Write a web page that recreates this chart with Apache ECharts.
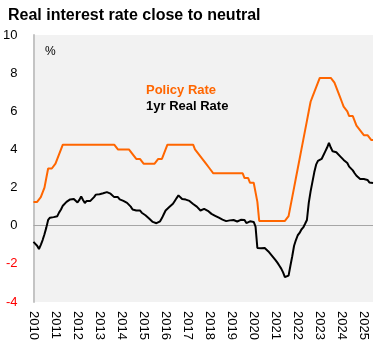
<!DOCTYPE html>
<html>
<head>
<meta charset="utf-8">
<script src="https://cdn.jsdelivr.net/npm/echarts@6/dist/echarts.min.js"></script>
<style>
html,body{margin:0;padding:0;background:#fff;}
#chart{width:390px;height:356px;}
</style>
</head>
<body>
<div id="chart"></div>
<script>
// Monthly categories Jan 2010 - Jun 2025
const startYear = 2010, endYear = 2025, endMonth = 6;
const months = [];
for (let y = startYear; y <= endYear; y++) {
  for (let m = 1; m <= 12; m++) {
    if (y === endYear && m > endMonth) break;
    months.push(y + '-' + (m < 10 ? '0' + m : m));
  }
}

// Policy rate (%), monthly
const policyRate = [
  1.25,1.25,1.25,1.25,1.50,1.75,2.00,2.50,3.00,3.00,3.00,3.00,   // 2010
  3.25,3.50,3.75,4.00,4.25,4.25,4.25,4.25,4.25,4.25,4.25,4.25,   // 2011
  4.25,4.25,4.25,4.25,4.25,4.25,4.25,4.25,4.25,4.25,4.25,4.25,   // 2012
  4.25,4.25,4.25,4.25,4.25,4.25,4.25,4.25,4.25,4.25,4.00,4.00,   // 2013
  4.00,4.00,4.00,4.00,4.00,4.00,3.75,3.75,3.50,3.50,3.50,3.50,   // 2014
  3.25,3.25,3.25,3.25,3.25,3.25,3.25,3.25,3.50,3.50,3.50,3.75,   // 2015
  4.00,4.25,4.25,4.25,4.25,4.25,4.25,4.25,4.25,4.25,4.25,4.25,   // 2016
  4.25,4.25,4.25,4.25,4.00,4.00,3.75,3.75,3.50,3.50,3.25,3.25,   // 2017
  3.00,3.00,2.75,2.75,2.75,2.75,2.75,2.75,2.75,2.75,2.75,2.75,   // 2018
  2.75,2.75,2.75,2.75,2.75,2.75,2.75,2.50,2.50,2.50,2.25,2.25,   // 2019
  2.25,2.25,1.25,0.25,0.25,0.25,0.25,0.25,0.25,0.25,0.25,0.25,   // 2020
  0.25,0.25,0.25,0.25,0.25,0.25,0.25,0.50,1.00,1.50,2.00,2.50,   // 2021
  3.00,3.50,4.00,4.50,5.00,5.50,6.00,6.50,6.75,7.00,7.25,7.50,   // 2022
  7.75,7.75,7.75,7.75,7.75,7.75,7.75,7.75,7.50,7.25,7.00,6.75,   // 2023
  6.50,6.25,6.25,6.00,5.75,5.75,5.75,5.50,5.25,5.25,5.00,5.00,   // 2024
  4.75,4.75,4.75,4.75,4.50,4.50                                  // 2025
];

// 1yr real rate (%), monthly
const realRate = [
  -0.85,-0.95,-1.05,-1.22,-1.00,-0.75,-0.45,-0.10,0.30,0.42,0.50,0.45,   // 2010
  0.40,0.50,0.70,0.85,1.05,1.15,1.25,1.30,1.38,1.28,1.40,1.50,           // 2011
  1.22,1.35,1.54,1.35,1.19,1.30,1.33,1.30,1.35,1.50,1.63,1.62,           // 2012
  1.65,1.68,1.70,1.75,1.76,1.72,1.68,1.60,1.50,1.45,1.50,1.38,           // 2013
  1.33,1.30,1.28,1.20,1.10,1.00,0.85,0.75,0.80,0.82,0.80,0.68,           // 2014
  0.60,0.55,0.48,0.38,0.30,0.20,0.14,0.13,0.18,0.23,0.40,0.60,           // 2015
  0.80,0.90,0.98,1.05,1.15,1.30,1.45,1.59,1.50,1.40,1.36,1.37,           // 2016
  1.35,1.30,1.22,1.14,1.10,1.00,0.95,0.80,0.75,0.88,0.82,0.78,           // 2017
  0.70,0.62,0.58,0.52,0.48,0.42,0.38,0.32,0.28,0.24,0.22,0.28,           // 2018
  0.35,0.30,0.26,0.22,0.30,0.31,0.25,0.30,0.14,0.20,0.23,0.15,           // 2019
  0.20,-0.05,-1.17,-1.22,-1.18,-1.20,-1.17,-1.25,-1.35,-1.45,-1.58,-1.70, // 2020
  -1.82,-1.95,-2.10,-2.25,-2.45,-2.69,-2.65,-2.62,-2.10,-1.60,-1.05,-0.75, // 2021
  -0.50,-0.38,-0.20,-0.09,0.10,0.30,1.20,1.80,2.30,2.80,3.20,3.40,       // 2022
  3.45,3.50,3.55,3.90,4.10,4.34,4.10,3.90,3.95,3.85,3.80,3.65,           // 2023
  3.55,3.45,3.35,3.29,3.10,3.00,2.90,2.75,2.62,2.52,2.45,2.47,           // 2024
  2.45,2.48,2.40,2.27,2.25,2.24                                          // 2025
];

const yMin = -4, yMax = 10, yStep = 2;
const titleText = 'Real interest rate close to neutral';
const policyName = 'Policy Rate';
const realName = '1yr Real Rate';
const unitText = '%';

const FONT = "'Liberation Sans', Arial, sans-serif";
const chart = echarts.init(document.getElementById('chart'), null, {renderer: 'canvas'});
chart.setOption({
  animation: false,
  backgroundColor: '#ffffff',
  title: {
    text: titleText,
    left: 3, top: 3,
    textStyle: {fontFamily: FONT, fontSize: 16, fontWeight: 'bold', color: '#000'}
  },
  grid: {
    left: 33, right: 17, top: 35, bottom: 54,
    show: true, backgroundColor: '#f2f2f2', borderWidth: 0
  },
  xAxis: {
    type: 'category',
    data: months,
    boundaryGap: false,
    axisLine: {show: false},
    axisTick: {show: false},
    splitLine: {show: false},
    axisLabel: {
      rotate: -90,
      margin: 9,
      fontFamily: FONT, fontSize: 13, color: '#000',
      interval: function (idx, val) { return val.slice(5) === '01'; },
      formatter: function (val) { return val.slice(0, 4); }
    }
  },
  yAxis: {
    type: 'value',
    min: yMin, max: yMax, interval: yStep,
    axisLine: {show: true, lineStyle: {color: '#c4c4c4', width: 2}},
    axisTick: {show: false},
    splitLine: {show: false},
    axisLabel: {
      margin: 16,
      fontFamily: FONT, fontSize: 13,
      color: function (v) { return Number(v) < 0 ? '#ff0000' : '#000000'; }
    }
  },
  graphic: [
    {type: 'text', left: 45, top: 46, style: {text: unitText, font: '12px ' + FONT, fill: '#000'}},
    {type: 'text', left: 146, top: 84, style: {text: policyName, font: 'bold 13px ' + FONT, fill: '#ff6600'}},
    {type: 'text', left: 146, top: 100, style: {text: realName, font: 'bold 13px ' + FONT, fill: '#000'}}
  ],
  series: [
    {
      name: policyName,
      type: 'line',
      data: policyRate,
      showSymbol: false,
      lineStyle: {color: '#ff6600', width: 2},
      itemStyle: {color: '#ff6600'},
      z: 3,
      markLine: {
        silent: true,
        symbol: ['none', 'none'],
        label: {show: false},
        lineStyle: {color: '#a6a6a6', width: 1, type: 'solid'},
        data: [{yAxis: 0}],
        z: 1
      }
    },
    {
      name: realName,
      type: 'line',
      data: realRate,
      showSymbol: false,
      lineStyle: {color: '#000000', width: 2},
      itemStyle: {color: '#000000'},
      z: 4
    }
  ]
});
</script>
</body>
</html>
